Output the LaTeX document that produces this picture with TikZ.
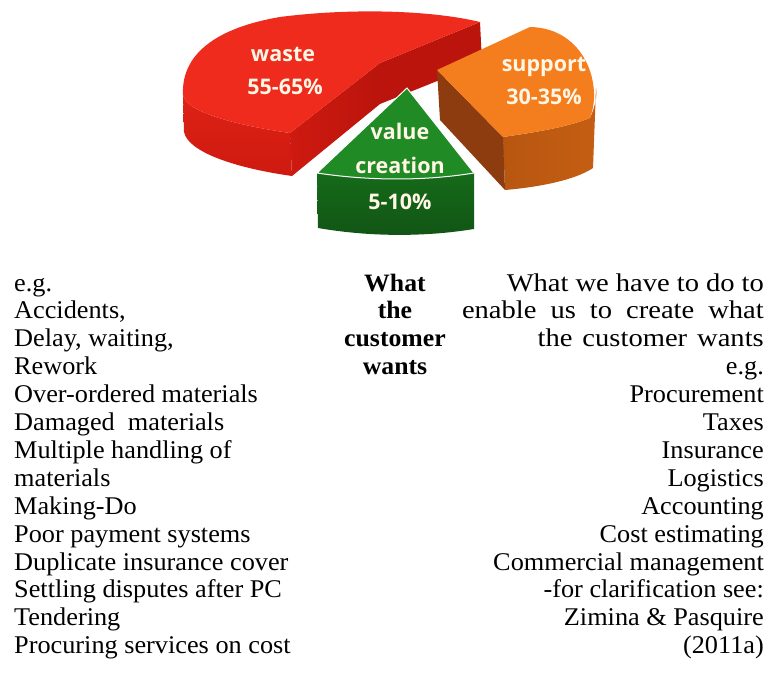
\documentclass[tikz,border=0pt]{standalone}
\usepackage{fontspec}
\setmainfont{Liberation Serif}[FakeStretch=1.03]
\newfontfamily\widefont{Liberation Serif}[FakeStretch=1.12]
\newfontfamily\piefont{Open Sans}
\definecolor{redtop}{RGB}{238,43,28}
\definecolor{redside}{RGB}{222,34,22}
\definecolor{redmid}{RGB}{206,26,16}
\definecolor{reddark}{RGB}{186,20,12}
\definecolor{greentop}{RGB}{32,138,36}
\definecolor{greenside}{RGB}{22,106,26}
\definecolor{orangetop}{RGB}{244,126,30}
\definecolor{orangeside}{RGB}{184,86,16}
\definecolor{orangedark}{RGB}{140,60,14}
\definecolor{labelcream}{RGB}{255,246,230}

\tikzset{
  item/.style={inner sep=0pt,font=\fontsize{25.5}{28}\selectfont},
  lcol/.style={item,anchor=base west},
  mcol/.style={item,anchor=base,font=\fontsize{25}{28}\selectfont\bfseries},
  rcol/.style={item,anchor=base east},
  widecol/.style={rcol,font=\fontsize{25.5}{28}\widefont,
    execute at begin node={\spaceskip=#1\relax}},
  pielabel/.style={inner sep=0pt,anchor=base,text=labelcream,
    font=\piefont\bfseries\fontsize{21.5}{26}\selectfont}
}

\begin{document}
\begin{tikzpicture}[x=1pt,y=-1pt]
\useasboundingbox (0,0) rectangle (767,692);

\shade[top color=redside,bottom color=redmid] (290,133) .. controls (235,125) and (186,112) .. (183,95) -- (184,132) .. controls (188,152) and (235,168) .. (292,176) -- cycle;
\fill[reddark] (380,63) -- (480,22) -- (482,63) -- (380,104) -- cycle;
\shade[left color=redmid,right color=reddark] (380,63) -- (290,133) -- (292,176) -- (380,104) -- cycle;
\fill[redtop] (380,63) -- (290,133) .. controls (235,125) and (186,112) .. (183,95) .. controls (181,55) and (215,28) .. (280,17) .. controls (350,8) and (430,10) .. (480,22) -- cycle;

\shade[top color=greenside,bottom color=greenside!80!black] (317,173) .. controls (370,181) and (425,181) .. (474,173) -- (474,229) .. controls (425,237) and (370,237) .. (318,228) -- cycle;
\filldraw[fill=greentop,draw=white,line width=1pt] (407,88) -- (474,173) .. controls (425,181) and (370,181) .. (317,173) -- cycle;

\shade[left color=orangeside,right color=orangeside!80!orangetop] (503,137) .. controls (530,133) and (565,128) .. (590,118) .. controls (596,105) and (597,95) .. (596,88) -- (593,168) .. controls (575,180) and (540,187) .. (505,190) -- cycle;
\fill[orangedark] (437,70) -- (503,137) -- (505,190) -- (440,120) -- cycle;
\fill[orangetop] (437,70) -- (530,27) .. controls (585,28) and (603,85) .. (590,118) .. controls (565,128) and (530,133) .. (503,137) -- cycle;

\node[pielabel] (wastelbl) at (283,62) {waste};
\node[pielabel] (wastepct) at (285,95) {55-65\%};
\node[pielabel] (supportlbl) at (544,72) {support};
\node[pielabel] (supportpct) at (544,105) {30-35\%};
\node[pielabel] (valuelbl) at (400,140) {value};
\node[pielabel] (creationlbl) at (400,174) {creation};
\node[pielabel] (valuepct) at (400,210) {5-10\%};

\foreach \txt [count=\i from 0] in {e.g., {Accidents,}, {Delay, waiting,}, Rework,
    Over-ordered materials, Damaged\ \ materials, Multiple handling of, materials,
    Making-Do, Poor payment systems, Duplicate insurance cover,
    Settling disputes after PC, Tendering, Procuring services on cost}
  \node[lcol] (waste\i) at (14,{291+27.9*\i}) {\txt};

\foreach \txt [count=\i from 0] in {What, the, customer, wants}
  \node[mcol] (value\i) at (395,{291+27.9*\i}) {\txt};

\node[widecol=7pt] (support0) at (764,291) {What we have to do to};
\node[widecol=14pt] (support1) at (764,318.9) {enable us to create what};
\node[widecol=10pt] (support2) at (764,346.8) {the customer wants};
\foreach \txt [count=\i from 3] in {e.g., Procurement, Taxes, Insurance, Logistics,
    Accounting, Cost estimating, Commercial management, -for clarification see:,
    Zimina \& Pasquire, (2011a)}
  \node[rcol] (support\i) at (764,{291+27.9*\i}) {\txt};
\end{tikzpicture}
\end{document}
